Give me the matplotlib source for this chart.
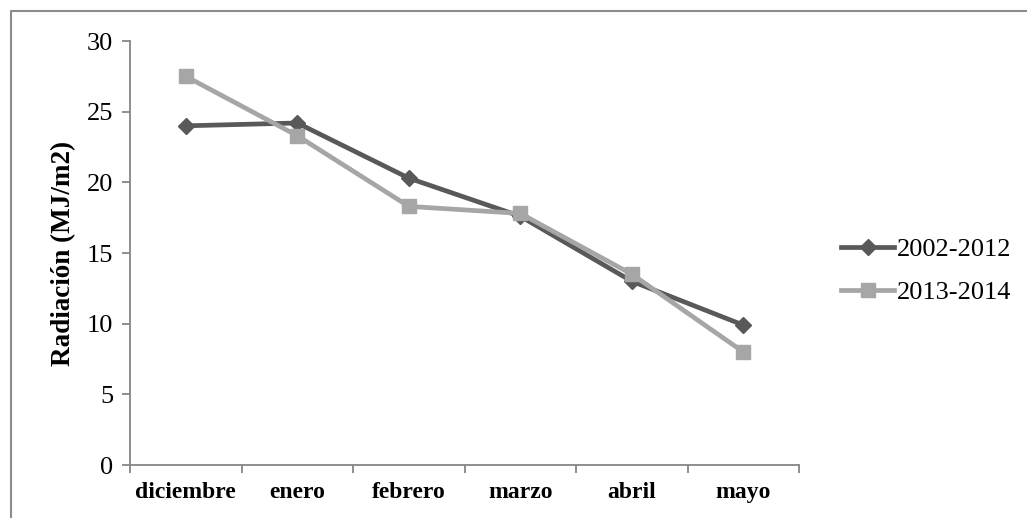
import matplotlib
matplotlib.use("Agg")
import matplotlib.pyplot as plt
from matplotlib.lines import Line2D
from matplotlib.ticker import FixedLocator, NullFormatter

plt.rcParams['font.family'] = ['Liberation Serif', 'DejaVu Serif']

months = ['diciembre', 'enero', 'febrero', 'marzo', 'abril', 'mayo']
rad_2002_2012 = [24.0, 24.2, 20.3, 17.6, 13.0, 9.9]
rad_2013_2014 = [27.5, 23.3, 18.3, 17.8, 13.5, 8.0]
series_names = ['2002-2012', '2013-2014']

fig = plt.figure(figsize=(10.27, 5.18), dpi=100)
ax = fig.add_axes([0.1266, 0.1023, 0.6515, 0.8185])

x = list(range(len(months)))
ax.plot(x, rad_2002_2012, color='#595959', lw=3.4, marker='D', ms=8.5,
        label=series_names[0], zorder=3)
ax.plot(x, rad_2013_2014, color='#a6a6a6', lw=3.4, marker='s', ms=10,
        label=series_names[1], zorder=3)

ax.set_xlim(-0.5, len(months) - 0.5)
ax.set_ylim(0, 30)
ax.set_yticks(range(0, 31, 5))
ax.set_xticks(x)
ax.set_xticklabels(months, fontsize=17, fontweight='bold')
ax.xaxis.set_minor_locator(FixedLocator([i - 0.5 for i in range(len(months) + 1)]))
ax.xaxis.set_minor_formatter(NullFormatter())
ax.tick_params(axis='x', which='major', length=0, pad=12)
ax.tick_params(axis='x', which='minor', length=6, width=1.3, color='#868686')
ax.tick_params(axis='y', length=6, width=1.3, color='#868686', labelsize=19, pad=6)

for side in ['top', 'right']:
    ax.spines[side].set_visible(False)
for side in ['left', 'bottom']:
    ax.spines[side].set_color('#868686')
    ax.spines[side].set_linewidth(1.3)

ax.set_ylabel('Radiación (MJ/m2)', fontsize=19.5, fontweight='bold', labelpad=8)

ax.legend(loc='center left', bbox_to_anchor=(0.796, 0.477), bbox_transform=fig.transFigure,
          frameon=False, fontsize=19, handlelength=2.0, handletextpad=0.1,
          labelspacing=0.75)

# outer frame (top and left edges)
fx = 10.5 / 1027
fy = 1 - 10.5 / 518
fig.add_artist(Line2D([fx, fx, 1], [0, fy, fy], transform=fig.transFigure,
                      color='#8c8c8c', lw=1.5))

fig.savefig('out.png', dpi=100)
